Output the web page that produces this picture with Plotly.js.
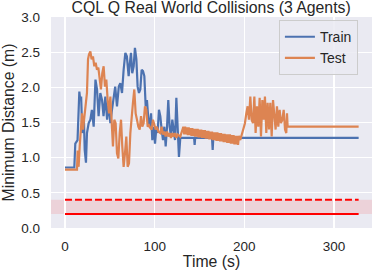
<!DOCTYPE html>
<html>
<head>
<meta charset="utf-8">
<script src="https://cdn.plot.ly/plotly-3.0.1.min.js"></script>
<style>html,body{margin:0;padding:0;background:#fff;}#chart{width:373px;height:271px;}</style>
</head>
<body>
<div id="chart"></div>
<script>
const trainT = [0, 10.4, 11.5, 14, 16, 17, 18, 19.3, 21, 22, 23.4, 24.5, 26.4, 28.3, 30, 32, 34, 35.7, 37.5, 39.4, 41.3, 43, 45, 47, 48.7, 50.6, 52.4, 54.3, 56, 58, 60, 61.7, 63.6, 65.4, 67.3, 69, 71, 72, 73.6, 75, 76.6, 78, 79.6, 81, 82.5, 84, 85.5, 87, 88.5, 90, 91.4, 93, 94.4, 96, 97.4, 99, 100.4, 102, 103.3, 104.8, 106.3, 107.8, 109.3, 110.8, 112.3, 113.8, 115.2, 116.7, 118.2, 119.7, 121.2, 122.7, 124.2, 125.7, 127.1, 128.6, 144, 144.6, 145.2, 164, 164.7, 165.4, 327.5];
const trainY = [0.86, 0.86, 1.20, 1.25, 1.94, 1.82, 1.87, 1.35, 1.59, 1.11, 0.93, 1.35, 1.49, 1.54, 1.68, 1.44, 2.11, 1.97, 1.59, 1.92, 1.82, 1.59, 1.87, 1.54, 1.78, 1.49, 1.68, 1.87, 2.01, 1.73, 2.01, 2.06, 1.92, 2.25, 2.49, 2.44, 2.16, 2.30, 2.49, 2.20, 2.30, 2.56, 2.40, 2.01, 1.92, 1.97, 2.25, 2.23, 2.16, 1.73, 1.82, 1.54, 1.44, 1.63, 1.25, 1.44, 1.20, 1.44, 1.35, 1.68, 1.59, 1.40, 1.25, 1.44, 1.16, 1.44, 1.82, 1.44, 1.30, 1.54, 1.35, 1.25, 1.85, 1.44, 1.01, 1.28, 1.28, 1.18, 1.28, 1.28, 1.11, 1.28, 1.28];

const testT = [0, 13.4, 14.1, 15.2, 16.4, 17.8, 19.0, 20.1, 21.6, 23.0, 24.5, 25.7, 26.8, 28.3, 29.7, 31.2, 32.7, 34.2, 35.7, 37.2, 38.7, 40.1, 41.6, 43.1, 44.6, 46.1, 47.6, 49.1, 50.6, 52.0, 53.5, 55.0, 56.5, 58.0, 59.5, 61.0, 62.5, 63.9, 65.4, 66.9, 68.4, 69.9, 71.4, 72.9, 74.3, 75.8, 77.3, 78.8, 80.3, 81.8, 83.3, 84.8, 86.2, 87.7, 89.2, 90.7, 92.2, 93.7, 95.2, 96.7, 98.1, 99.6, 101.1, 102.6, 104.1, 106.3, 107.8, 109.3, 110.8, 112.3, 113.8, 115.2, 116.7, 118.2, 119.7, 121.2, 122.7, 124.2, 125.7, 128.6, 130.5,
  132, 133, 134, 135, 136, 137, 138, 139, 140, 141, 142, 143, 144, 145, 146, 147, 148, 149, 150, 151, 152, 153, 154, 155, 156, 157, 158, 159, 160, 161, 162, 163, 164, 165, 166, 167, 168, 169, 170, 171, 172, 173, 174, 175, 176, 177, 178, 179, 180, 181, 182, 183, 184, 185, 186, 187, 188, 189, 190, 191, 192, 193, 194,
  195.5, 197.8, 199.3, 200.7, 202.2, 203.7, 205.2, 206.7, 208.2, 209.7, 211.2, 212.6, 214.1, 215.6, 217.1, 218.6, 220.1, 221.6, 223.0, 224.5, 226.0, 227.5, 229.0, 230.5, 232.0, 233.5, 234.9, 236.4, 237.9, 239.4, 240.9, 242.4, 243.9, 245.4, 246.8, 247.6, 248.3, 327.5];
const testY = [0.83, 0.83, 1.10, 0.87, 1.16, 1.49, 1.63, 1.40, 1.59, 1.73, 1.92, 2.40, 2.47, 2.51, 2.40, 2.44, 2.30, 2.35, 2.25, 2.28, 2.11, 1.97, 2.20, 2.30, 2.01, 2.11, 1.82, 1.63, 1.87, 1.44, 1.16, 1.54, 1.49, 1.06, 0.99, 1.35, 1.54, 1.16, 0.87, 1.06, 1.30, 0.87, 0.92, 1.35, 1.63, 1.78, 1.97, 1.63, 1.54, 1.44, 1.40, 1.59, 1.44, 1.49, 1.73, 1.68, 1.44, 1.46, 1.42, 1.40, 1.54, 1.46, 1.40, 1.44, 1.37, 1.35, 1.44, 1.33, 1.37, 1.30, 1.37, 1.30, 1.35, 1.28, 1.35, 1.30, 1.35, 1.28, 1.33, 1.30, 1.37,
  1.44, 1.33, 1.44, 1.33, 1.43, 1.32, 1.43, 1.32, 1.42, 1.31, 1.42, 1.31, 1.41, 1.30, 1.41, 1.30, 1.41, 1.29, 1.40, 1.29, 1.40, 1.28, 1.39, 1.28, 1.39, 1.27, 1.38, 1.27, 1.38, 1.26, 1.37, 1.26, 1.37, 1.25, 1.36, 1.25, 1.36, 1.24, 1.36, 1.24, 1.35, 1.23, 1.35, 1.23, 1.34, 1.22, 1.34, 1.22, 1.33, 1.21, 1.33, 1.21, 1.33, 1.20, 1.32, 1.20, 1.32, 1.19, 1.31, 1.19, 1.31, 1.18, 1.31,
  1.25, 1.35, 1.40, 1.49, 1.63, 1.73, 1.54, 1.87, 1.54, 1.49, 1.87, 1.35, 1.73, 1.44, 1.85, 1.30, 1.82, 1.54, 1.87, 1.35, 1.78, 1.40, 1.78, 1.30, 1.82, 1.63, 1.40, 1.73, 1.44, 1.68, 1.49, 1.54, 1.68, 1.40, 1.35, 1.63, 1.44, 1.44];

const thresholdT = [0, 327.5];
const collisionDist = 0.2;
const safetyDist = 0.4;
const xTickVals = [0, 100, 200, 300];
const yTickVals = [0.0, 0.5, 1.0, 1.5, 2.0, 2.5, 3.0];
const yTickText = ["0.0", "0.5", "1.0", "1.5", "2.0", "2.5", "3.0"];

const FONT = "Liberation Sans, Arial, sans-serif";

const traces = [
  {x: trainT, y: trainY, type: "scatter", mode: "lines", name: "Train",
   line: {color: "#4c72b0", width: 2.2}},
  {x: testT, y: testY, type: "scatter", mode: "lines", name: "Test",
   line: {color: "#dd8452", width: 2.2}},
  {x: thresholdT, y: thresholdT.map(() => safetyDist), type: "scatter", mode: "lines",
   showlegend: false, hoverinfo: "skip", line: {color: "#ff0000", width: 2, dash: "7px,3px"}},
  {x: thresholdT, y: thresholdT.map(() => collisionDist), type: "scatter", mode: "lines",
   showlegend: false, hoverinfo: "skip", line: {color: "#ff0000", width: 2}}
];

const layout = {
  width: 373, height: 271,
  margin: {l: 51, r: 1, t: 17, b: 43, pad: 0},
  paper_bgcolor: "#ffffff",
  plot_bgcolor: "#eaeaf2",
  font: {family: FONT, color: "#262626", size: 13},
  title: {text: "CQL Q Real World Collisions (3 Agents)", font: {family: FONT, size: 15.8, color: "#262626"},
          x: 0.566, xanchor: "center", y: 0.972, yanchor: "middle", yref: "container"},
  xaxis: {range: [-15.6, 342.4], tickvals: xTickVals, ticks: "", ticklabelstandoff: 8,
          showgrid: true, gridcolor: "#ffffff", gridwidth: 1.3, zeroline: false, showline: false,
          tickfont: {size: 13.5, color: "#262626"},
          title: {text: "Time (s)", font: {size: 15.8, color: "#262626"}, standoff: 3}},
  yaxis: {range: [0, 3], tickvals: yTickVals, ticktext: yTickText, ticks: "", ticklabelstandoff: 10,
          showgrid: true, gridcolor: "#ffffff", gridwidth: 1.3, zeroline: false, showline: false,
          tickfont: {size: 13.5, color: "#262626"},
          title: {text: "Minimum Distance (m)", font: {size: 15.8, color: "#262626"}, standoff: 3}},
  shapes: [{type: "rect", xref: "paper", yref: "y", x0: 0, x1: 1, y0: collisionDist, y1: safetyDist,
            fillcolor: "rgba(255,0,0,0.1)", line: {width: 0}, layer: "between"}],
  legend: {x: 0.71, xanchor: "left", y: 0.985, yanchor: "top",
           bgcolor: "rgba(234,234,242,0.85)", bordercolor: "#cccccc", borderwidth: 1,
           entrywidth: 46, entrywidthmode: "pixels",
           font: {size: 14, color: "#262626"}},
  showlegend: true
};

Plotly.newPlot("chart", traces, layout, {staticPlot: true, displayModeBar: false});
</script>
</body>
</html>
